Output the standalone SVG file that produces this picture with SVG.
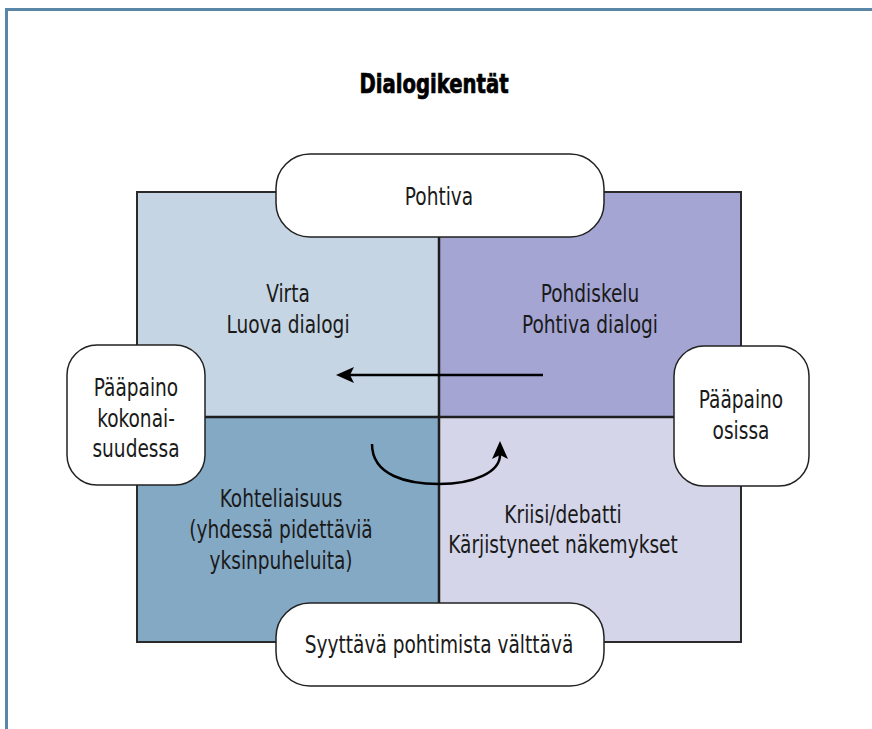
<svg xmlns="http://www.w3.org/2000/svg" width="872" height="729" viewBox="0 0 872 729">
  <defs>
    <style>
      .frame { fill: none; stroke: #5a87a8; stroke-width: 3; }
      .edge { fill: none; stroke: #2a2a2a; stroke-width: 2; }
      .divider { stroke: #1e1e1e; stroke-width: 2.5; }
      .box { fill: #ffffff; stroke: #222222; stroke-width: 1.5; }
      .label { font-family: "DejaVu Sans Condensed", "DejaVu Sans", sans-serif; font-size: 24px; fill: #1a1a1a; text-anchor: middle; }
      .title { font-family: "DejaVu Sans Condensed", "DejaVu Sans", sans-serif; font-weight: bold; font-size: 26px; fill: #000000; stroke: #000000; stroke-width: 0.7; text-anchor: middle; }
      .arrow { fill: none; stroke: #000000; stroke-width: 2.5; marker-end: url(#head); }
    </style>
    <marker id="head" markerUnits="userSpaceOnUse" markerWidth="20" markerHeight="18" refX="4" refY="8" orient="auto" overflow="visible">
      <path d="M0,0 L18,8 L0,16 L4,8 Z" fill="#000000"/>
    </marker>
  </defs>

  <!-- page frame: top and left rule -->
  <path class="frame" d="M6.5,729 V9.5 H872"/>

  <text class="title" transform="translate(434 93) scale(0.84 1)">Dialogikentät</text>

  <!-- four quadrants -->
  <g id="quadrants">
    <rect x="137" y="192" width="302" height="225" fill="#c5d5e3"/>
    <rect x="439" y="192" width="302" height="225" fill="#a4a5d2"/>
    <rect x="137" y="417" width="302" height="225" fill="#84a9c5"/>
    <rect x="439" y="417" width="302" height="225" fill="#d4d5e9"/>
    <rect class="edge" x="137" y="192" width="604" height="450"/>
    <line class="divider" x1="439" y1="192" x2="439" y2="642"/>
    <line class="divider" x1="137" y1="417" x2="741" y2="417"/>
  </g>

  <g id="virta">
    <text class="label" transform="translate(288 302) scale(0.86 1)">Virta</text>
    <text class="label" transform="translate(288 333) scale(0.86 1)">Luova dialogi</text>
  </g>

  <g id="pohdiskelu">
    <text class="label" transform="translate(590 302) scale(0.86 1)">Pohdiskelu</text>
    <text class="label" transform="translate(590 333) scale(0.86 1)">Pohtiva dialogi</text>
  </g>

  <g id="kohteliaisuus">
    <text class="label" transform="translate(281 507) scale(0.86 1)">Kohteliaisuus</text>
    <text class="label" transform="translate(281 538) scale(0.86 1)">(yhdessä pidettäviä</text>
    <text class="label" transform="translate(281 569) scale(0.86 1)">yksinpuheluita)</text>
  </g>

  <g id="kriisi">
    <text class="label" transform="translate(563 523) scale(0.86 1)">Kriisi/debatti</text>
    <text class="label" transform="translate(563 553) scale(0.86 1)">Kärjistyneet näkemykset</text>
  </g>

  <!-- connectors -->
  <g id="connectors">
    <path class="arrow" d="M543,375 H350"/>
    <path class="arrow" d="M372,444 C372,476 408,484 439,484 C474,484 500,472 500,455"/>
  </g>

  <g id="pohtiva">
    <rect class="box" x="276" y="154" width="328" height="83" rx="34" ry="34"/>
    <text class="label" transform="translate(439 205) scale(0.86 1)">Pohtiva</text>
  </g>

  <g id="syyttava">
    <rect class="box" x="276" y="603" width="328" height="83" rx="34" ry="34"/>
    <text class="label" transform="translate(439 653) scale(0.86 1)">Syyttävä pohtimista välttävä</text>
  </g>

  <g id="kokonaisuus">
    <rect class="box" x="67" y="345" width="138" height="140" rx="30" ry="30"/>
    <text class="label" transform="translate(136 396) scale(0.86 1)">Pääpaino</text>
    <text class="label" transform="translate(136 427) scale(0.86 1)">kokonai-</text>
    <text class="label" transform="translate(136 457) scale(0.86 1)">suudessa</text>
  </g>

  <g id="osat">
    <rect class="box" x="674" y="346" width="135" height="140" rx="30" ry="30"/>
    <text class="label" transform="translate(741 408) scale(0.86 1)">Pääpaino</text>
    <text class="label" transform="translate(741 439) scale(0.86 1)">osissa</text>
  </g>
</svg>
